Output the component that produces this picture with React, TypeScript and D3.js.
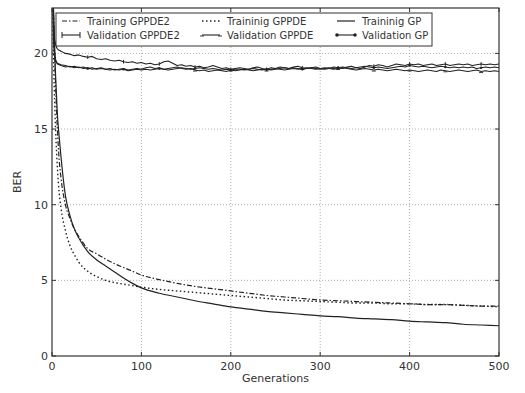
import React from "react";
import * as d3 from "d3";

// ---- Data ----
const trainGens = [0, 2, 4, 6, 8, 10, 15, 20, 25, 30, 40, 50, 60, 70, 80, 90, 100, 120, 140, 160, 180, 200, 220, 240, 260, 280, 300, 320, 340, 360, 380, 400, 420, 440, 460, 480, 500];
const trainGPPDE2 = [26, 22, 18, 15, 13, 11.8, 10, 9.1, 8.4, 7.9, 7.1, 6.75, 6.4, 6.1, 5.85, 5.6, 5.35, 5.05, 4.8, 4.6, 4.45, 4.3, 4.15, 4.0, 3.9, 3.8, 3.7, 3.65, 3.6, 3.55, 3.5, 3.45, 3.4, 3.4, 3.35, 3.3, 3.3];
const trainGPPDE = [25, 19, 15, 12.5, 10.8, 9.8, 8.3, 7.3, 6.7, 6.2, 5.6, 5.25, 5.0, 4.85, 4.75, 4.65, 4.55, 4.4, 4.3, 4.2, 4.1, 4.0, 3.9, 3.8, 3.7, 3.65, 3.6, 3.55, 3.5, 3.5, 3.45, 3.45, 3.4, 3.4, 3.35, 3.3, 3.25];
const trainGP = [27, 22, 18.5, 16, 14.5, 13.2, 10.6, 9.3, 8.4, 7.8, 6.9, 6.35, 5.95, 5.55, 5.15, 4.8, 4.5, 4.15, 3.9, 3.65, 3.45, 3.25, 3.1, 2.95, 2.85, 2.75, 2.65, 2.6, 2.5, 2.45, 2.4, 2.3, 2.25, 2.2, 2.1, 2.05, 2.0];

const valGensEarly = [0, 1, 2, 3, 4, 5, 6, 8];
const valGens = valGensEarly.concat(d3.range(10, 501, 5));
const valGPPDE2 = [
  30, 25, 22, 20.9, 20.6, 20.4, 20.3, 20.2,
  20.15, 20.0, 19.95, 19.85, 19.9, 19.8, 19.75, 19.8, 19.65, 19.6,
  19.65, 19.55, 19.5, 19.55, 19.45, 19.4, 19.45, 19.35, 19.4, 19.3,
  19.35, 19.25, 19.3, 19.45, 19.5, 19.35, 19.2, 19.25, 19.15, 19.2,
  19.1, 19.15, 19.05, 19.1, 19.2, 19.1, 19.0, 19.05, 18.95, 19.0,
  19.05, 19.0, 18.95, 19.05, 19.1, 19.0, 18.95, 19.05, 19.0, 19.1,
  19.05, 19.0, 19.1, 19.15, 19.05, 19.0, 19.05, 19.1, 19.0, 18.95,
  19.0, 19.1, 19.05, 19.0, 19.1, 19.15, 19.05, 19.0, 19.1, 19.2,
  19.15, 19.25, 19.2, 19.1, 19.2, 19.3, 19.25, 19.2, 19.3, 19.25,
  19.3, 19.2, 19.25, 19.3, 19.2, 19.25, 19.3, 19.2, 19.25, 19.3,
  19.25, 19.3, 19.2, 19.25, 19.3, 19.25, 19.3, 19.25, 19.3,
];
const valGPPDE = [
  29, 23, 20.5, 19.8, 19.5, 19.4, 19.3, 19.25,
  19.2, 19.1, 19.15, 19.05, 19.1, 19.0, 19.05, 18.95, 19.0, 19.05,
  18.95, 19.0, 18.9, 18.95, 19.0, 18.9, 18.95, 19.0, 18.95, 19.05,
  19.1, 19.0, 19.05, 18.95, 19.0, 19.05, 19.1, 19.0, 18.95, 19.0,
  18.9, 18.85, 18.9, 18.8, 18.85, 18.9, 18.85, 18.8, 18.9, 18.85,
  18.9, 18.95, 18.9, 18.85, 18.9, 18.95, 18.9, 18.95, 19.0, 18.95,
  18.9, 18.95, 19.0, 18.95, 19.0, 19.05, 19.0, 18.95, 19.0, 19.05,
  19.0, 18.95, 19.0, 19.05, 19.0, 18.95, 18.9, 18.95, 19.0, 18.95,
  18.9, 18.95, 18.9, 18.85, 18.9, 18.95, 18.9, 18.85, 18.9, 18.85,
  18.8, 18.85, 18.9, 18.85, 18.8, 18.9, 18.85, 18.8, 18.85, 18.9,
  18.85, 18.8, 18.85, 18.9, 18.8, 18.85, 18.8, 18.85, 18.8,
];
const valGP = [
  31, 24, 21, 20.0, 19.6, 19.45, 19.35, 19.3,
  19.25, 19.2, 19.1, 19.15, 19.05, 19.1, 19.0, 19.05, 18.95, 19.0,
  18.95, 18.9, 18.95, 18.9, 18.95, 18.85, 18.9, 18.95, 18.9, 18.95,
  18.9, 18.95, 19.0, 18.95, 18.9, 18.95, 19.0, 19.05, 19.0, 18.95,
  19.0, 19.05, 19.0, 18.95, 19.0, 18.95, 18.9, 18.95, 18.9, 18.95,
  18.95, 18.9, 18.95, 19.0, 18.95, 18.9, 18.95, 18.9, 18.95, 19.0,
  19.05, 19.0, 19.05, 19.0, 18.95, 19.0, 19.05, 19.0, 18.95, 19.0,
  19.05, 19.0, 19.05, 19.1, 19.05, 19.0, 19.05, 19.1, 19.15, 19.1,
  19.05, 19.1, 19.05, 19.0, 19.05, 19.1, 19.15, 19.1, 19.2, 19.15,
  19.1, 19.15, 19.1, 19.05, 19.1, 19.15, 19.1, 19.05, 19.1, 19.05,
  19.1, 19.05, 19.1, 19.0, 19.05, 19.1, 19.05, 19.1, 19.05,
];

const xTicks = [0, 100, 200, 300, 400, 500];
const yTicks = [0, 5, 10, 15, 20];
const legendLabels = ["Training GPPDE2", "Traininig GPPDE", "Traininig GP", "Validation GPPDE2", "Validation GPPDE", "Validation GP"];

// ---- Layout ----
const W = 525, H = 393;
const L = 52, R = 499, T = 8, B = 356;
const FONT = "DejaVu Sans, sans-serif";
const INK = "#222";

type Marker = "none" | "vbar" | "hbar" | "dot";
interface Series { xs: number[]; ys: number[]; dash?: string; marker: Marker; width: number; smooth: boolean }

export default function App() {
  const x = d3.scaleLinear().domain([0, 500]).range([L, R]);
  const y = d3.scaleLinear().domain([0, 23]).range([B, T]);

  const series: Series[] = [
    { xs: trainGens, ys: trainGPPDE2, dash: "5,2,1.5,2", marker: "none", width: 1.2, smooth: true },
    { xs: trainGens, ys: trainGPPDE, dash: "1.5,2.5", marker: "none", width: 1.4, smooth: true },
    { xs: trainGens, ys: trainGP, marker: "none", width: 1.2, smooth: true },
    { xs: valGens, ys: valGPPDE2, marker: "vbar", width: 1.1, smooth: false },
    { xs: valGens, ys: valGPPDE, marker: "hbar", width: 1.1, smooth: false },
    { xs: valGens, ys: valGP, marker: "dot", width: 1.1, smooth: false },
  ];

  const line = (xs: number[], ys: number[], smooth: boolean) =>
    d3.line<number>()
      .x((_, i) => x(xs[i]))
      .y((d) => y(d))
      .curve(smooth ? d3.curveMonotoneX : d3.curveLinear)(ys) || "";

  const drawMarker = (m: Marker, cx: number, cy: number, key: string, big: boolean) => {
    const s = big ? 3 : 1.8;
    if (m === "vbar") return <line key={key} x1={cx} x2={cx} y1={cy - s} y2={cy + s} stroke={INK} strokeWidth={1} />;
    if (m === "hbar") return <line key={key} x1={cx - 2} x2={cx + 2} y1={cy + 1} y2={cy + 1} stroke={INK} strokeWidth={0.9} />;
    if (m === "dot") return <circle key={key} cx={cx} cy={cy} r={big ? 1.8 : 1.2} fill={INK} />;
    return null;
  };

  const legendCols = [62, 202, 337];
  const legendRows = [21, 35];

  return (
    <svg width={W} height={H} style={{ position: "absolute", left: 0, top: 0, background: "#fff" }} fontFamily={FONT}>
      <defs>
        <clipPath id="plotclip">
          <rect x={L} y={T} width={R - L} height={B - T} />
        </clipPath>
      </defs>
      <rect x={0} y={0} width={W} height={H} fill="#fff" />
      {/* grid */}
      {xTicks.slice(1, -1).map((t) => (
        <line key={"gx" + t} x1={x(t)} x2={x(t)} y1={T} y2={B} stroke="#999" strokeWidth={0.8} strokeDasharray="1,2" />
      ))}
      {yTicks.slice(1).map((t) => (
        <line key={"gy" + t} x1={L} x2={R} y1={y(t)} y2={y(t)} stroke="#999" strokeWidth={0.8} strokeDasharray="1,2" />
      ))}
      {/* series */}
      <g clipPath="url(#plotclip)">
        {series.map((s, i) => (
          <g key={"s" + i}>
            <path d={line(s.xs, s.ys, s.smooth)} fill="none" stroke={INK} strokeWidth={s.width} strokeDasharray={s.dash} strokeLinejoin="round" />
            {s.marker !== "none" &&
              s.xs.map((g, j) => (g >= 10 && g % 40 === 0 ? drawMarker(s.marker, x(g), y(s.ys[j]), `m${i}-${j}`, false) : null))}
          </g>
        ))}
      </g>
      {/* frame */}
      <rect x={L} y={T} width={R - L} height={B - T} fill="none" stroke="#333" strokeWidth={1.2} />
      {/* ticks */}
      {xTicks.map((t) => (
        <g key={"xt" + t}>
          <line x1={x(t)} x2={x(t)} y1={B} y2={B - 4} stroke="#333" />
          <line x1={x(t)} x2={x(t)} y1={T} y2={T + 4} stroke="#333" />
          <text x={x(t)} y={369.5} fontSize={11} textAnchor="middle" fill="#333">{t}</text>
        </g>
      ))}
      {yTicks.map((t) => (
        <g key={"yt" + t}>
          <line x1={L} x2={L + 4} y1={y(t)} y2={y(t)} stroke="#333" />
          <line x1={R} x2={R - 4} y1={y(t)} y2={y(t)} stroke="#333" />
          <text x={48} y={y(t)} dy="0.35em" fontSize={11} textAnchor="end" fill="#333">{t}</text>
        </g>
      ))}
      {/* axis labels */}
      <text x={(L + R) / 2} y={382} fontSize={11} textAnchor="middle" fill="#333">Generations</text>
      <text transform={`translate(21,${(T + B) / 2}) rotate(-90)`} fontSize={11} textAnchor="middle" fill="#333">BER</text>
      {/* legend */}
      <rect x={56} y={13} width={376} height={33} fill="#fff" stroke="#333" strokeWidth={1} />
      {series.map((s, i) => {
        const col = legendCols[i % 3];
        const row = legendRows[Math.floor(i / 3)];
        return (
          <g key={"lg" + i}>
            <line x1={col} x2={col + 18} y1={row} y2={row} stroke={INK} strokeWidth={s.width} strokeDasharray={s.dash} />
            {s.marker !== "none" && drawMarker(s.marker, col, row, "lm0" + i, true)}
            {s.marker !== "none" && drawMarker(s.marker, col + 18, row, "lm1" + i, true)}
            <text x={col + 25} y={row} dy="0.35em" fontSize={10} fill="#333">{legendLabels[i]}</text>
          </g>
        );
      })}
    </svg>
  );
}
